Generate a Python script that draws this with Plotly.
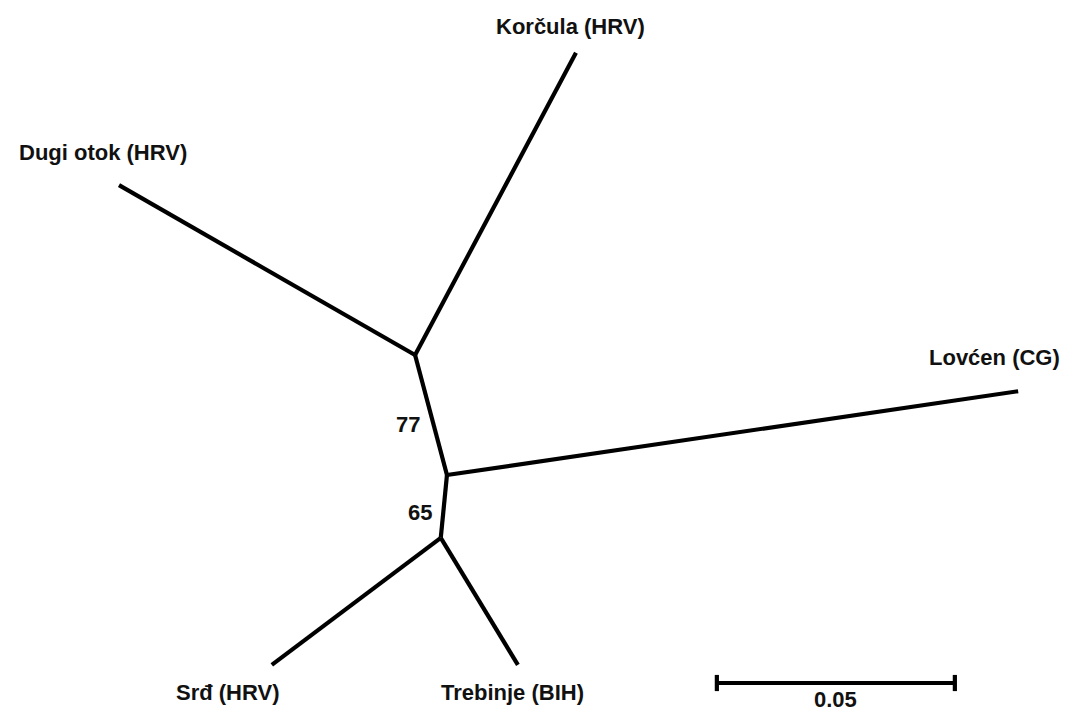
import plotly.graph_objects as go

# Tree nodes in branch-length space (units of 0.001 substitutions/site)
node_names = ["A", "B", "C", "Korčula (HRV)", "Dugi otok (HRV)", "Lovćen (CG)", "Srđ (HRV)", "Trebinje (BIH)"]
node_x = [87.2, 93.9, 92.6, 121.0, 25.0, 213.9, 57.1, 108.8]
node_y = [75.2, 50.0, 36.8, 138.7, 110.9, 67.6, 10.1, 10.1]

# Edges (parent, child)
edges = [("A", "Korčula (HRV)"), ("A", "Dugi otok (HRV)"), ("A", "B"),
         ("B", "Lovćen (CG)"), ("B", "C"),
         ("C", "Srđ (HRV)"), ("C", "Trebinje (BIH)")]

# Bootstrap support values on internal branches
support_edges = [("A", "B"), ("B", "C")]
support_values = ["77", "65"]

# Scale bar
scale_len = 50.0          # 0.05 in units of 0.001
scale_label = "0.05"
scale_x0, scale_y0 = 150.6, 6.3

tips = ["Korčula (HRV)", "Dugi otok (HRV)", "Lovćen (CG)", "Srđ (HRV)", "Trebinje (BIH)"]

pos = {n: (x, y) for n, x, y in zip(node_names, node_x, node_y)}

ex, ey = [], []
for a, b in edges:
    ex += [pos[a][0], pos[b][0], None]
    ey += [pos[a][1], pos[b][1], None]

fig = go.Figure()
fig.add_trace(go.Scatter(x=ex, y=ey, mode="lines",
                         line=dict(color="black", width=4.2),
                         hoverinfo="skip", showlegend=False))

# scale bar
cap = 1.7
sx = [scale_x0, scale_x0 + scale_len, None,
      scale_x0, scale_x0, None,
      scale_x0 + scale_len, scale_x0 + scale_len]
sy = [scale_y0, scale_y0, None,
      scale_y0 - cap, scale_y0 + cap, None,
      scale_y0 - cap, scale_y0 + cap]
fig.add_trace(go.Scatter(x=sx, y=sy, mode="lines",
                         line=dict(color="black", width=4.2),
                         hoverinfo="skip", showlegend=False))

font = dict(family="Liberation Sans, Arial, sans-serif", size=22, color="#111111")

label_offsets = {
    "Korčula (HRV)": (-5, 26),
    "Dugi otok (HRV)": (-16, 33),
    "Lovćen (CG)": (-24, 34),
    "Srđ (HRV)": (-44, -28),
    "Trebinje (BIH)": (-5, -28),
}
for t in tips:
    dx, dy = label_offsets[t]
    fig.add_annotation(x=pos[t][0], y=pos[t][1], text=f"<b>{t}</b>",
                       showarrow=False, xshift=dx, yshift=dy, font=font,
                       xanchor="center", yanchor="middle")

support_offsets = [(-23, -9), (-24, -6)]
for (a, b), v, (dx, dy) in zip(support_edges, support_values, support_offsets):
    mx = (pos[a][0] + pos[b][0]) / 2
    my = (pos[a][1] + pos[b][1]) / 2
    fig.add_annotation(x=mx, y=my, text=f"<b>{v}</b>", showarrow=False,
                       xshift=dx, yshift=dy, font=font)

fig.add_annotation(x=scale_x0 + scale_len / 2, y=scale_y0, text=f"<b>{scale_label}</b>",
                   showarrow=False, yshift=-16, font=font, borderpad=0)

fig.update_layout(
    width=1070, height=713,
    margin=dict(l=0, r=0, t=0, b=0),
    paper_bgcolor="white", plot_bgcolor="white",
    xaxis=dict(range=[0, 1070 / 4.76], visible=False, fixedrange=True),
    yaxis=dict(range=[0, 713 / 4.76], visible=False, fixedrange=True),
)

fig.write_html("out.html", config={"displayModeBar": False},
               post_script="document.body.style.margin='0';document.body.style.overflow='hidden';")
